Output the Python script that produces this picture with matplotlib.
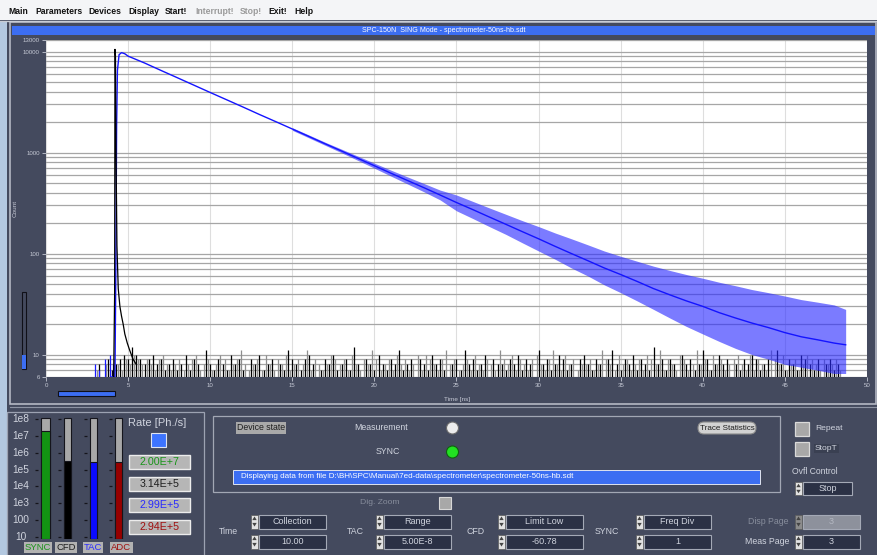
import matplotlib
matplotlib.use("Agg")
import matplotlib.pyplot as plt
from matplotlib.patches import Rectangle, Circle, FancyBboxPatch, Polygon
from matplotlib.ticker import LogLocator, NullFormatter

plt.rcParams['font.family'] = ['Liberation Sans', 'DejaVu Sans']

# ---------------- data ----------------
menu_items = ['Main', 'Parameters', 'Devices', 'Display', 'Start!', 'Interrupt!', 'Stop!', 'Exit!', 'Help']
menu_enabled = [True, True, True, True, True, False, False, True, True]

# decay curve (blue), time in ns, counts
decay_t = [4.0, 4.2, 4.25, 4.3, 4.35, 4.45, 4.6, 4.8, 5, 6, 7, 8, 9, 10, 11, 12, 13, 14, 15, 16, 17,
           18, 19, 20, 21, 22, 23, 24, 25, 26, 27, 28, 29, 30, 31, 32, 33, 34, 35, 36, 37, 38, 39,
           40, 41, 42, 43, 44, 45, 46, 47, 48, 48.7]
decay_counts = [6, 6, 60, 1800, 6500, 9300, 9750, 9500, 9000, 7700, 6500, 5500, 4650, 3930, 3330,
                2820, 2380, 2020, 1710, 1445, 1220, 1035, 875, 740, 625, 530, 450, 380, 320, 272,
                230, 195, 165, 140, 118, 100, 85, 72, 62, 53, 45, 39, 34, 30, 26, 23, 20.5, 18.5,
                16.5, 15, 14, 13, 12.5]

# noise spread of the decay curve
band_t = [15, 16, 17, 18, 19, 20, 21, 22, 23, 24, 25, 26, 27, 28, 29, 30, 31, 32, 33, 34, 35,
          36, 37, 38, 39, 40, 41, 42, 43, 44, 45, 46, 47, 48, 48.7]
band_low = [1660, 1400, 1180, 995, 835, 700, 585, 490, 410, 340, 265, 222, 185, 155, 128, 106,
            88, 72, 60, 49, 41, 34, 28, 23, 19, 16, 13.5, 11.5, 10, 9, 8, 7.5, 7, 6.5, 6.5]
band_high = [1760, 1495, 1265, 1080, 920, 785, 670, 575, 495, 425, 380, 328, 283, 245, 212, 185,
             160, 140, 122, 106, 94, 84, 75, 68, 62, 57, 52, 48, 44, 41, 38, 35, 33, 31, 28]

# instrument response (black)
irf_t = [4.12, 4.18, 4.2, 4.23, 4.27, 4.32, 4.4, 4.5, 4.6, 4.7, 4.8, 4.95, 5.1, 5.3, 5.5]
irf_counts = [6, 40, 10500, 9000, 800, 120, 45, 30, 24, 20, 16, 13, 11, 9, 8]

# background counts, one value per 0.25 ns channel group starting at 2.75 ns
bg_black = [6, 6, 8, 6, 9, 7, 8, 9, 10, 9, 12, 10, 9, 8, 9, 10, 8, 9, 7, 8,
            9, 7, 8, 10, 7, 9, 8, 6, 11, 8, 7, 9, 8, 7, 10, 8, 9, 7, 6, 9,
            8, 10, 7, 8, 9, 6, 8, 7, 11, 9, 8, 7, 9, 10, 8, 6, 7, 9, 8, 10,
            7, 8, 9, 7, 12, 8, 6, 9, 8, 7, 10, 8, 7, 9, 8, 11, 7, 8, 9, 6,
            9, 8, 7, 10, 8, 9, 7, 6, 8, 9, 7, 11, 8, 9, 7, 8, 10, 6, 9, 8,
            8, 7, 9, 8, 10, 7, 9, 8, 6, 11, 8, 9, 7, 8, 10, 9, 7, 8, 6, 9,
            10, 8, 7, 9, 8, 6, 9, 11, 8, 7, 9, 8, 10, 7, 9, 8, 7, 12, 8, 9,
            7, 9, 8, 6, 10, 8, 9, 7, 8, 11, 9, 7, 8, 10, 8, 9, 6, 8, 7, 9,
            8, 10, 9, 7, 8, 9, 6, 11, 8, 7, 9, 8, 7, 10, 9, 8, 7, 9, 6, 8,
            9, 7, 8, 6]
bg_gray = [6, 7, 6, 8, 7, 9, 8, 7, 9, 8, 10, 9, 8, 9, 8, 7, 9, 10, 8, 7,
           8, 9, 7, 8, 9, 10, 7, 8, 9, 7, 8, 10, 9, 7, 8, 9, 11, 8, 7, 8,
           9, 7, 10, 8, 7, 9, 8, 10, 7, 8, 9, 8, 11, 7, 9, 8, 7, 8, 10, 9,
           8, 9, 7, 10, 8, 7, 9, 8, 11, 9, 7, 8, 9, 7, 10, 8, 9, 7, 8, 10,
           7, 10, 9, 8, 7, 9, 11, 8, 9, 7, 8, 9, 7, 10, 8, 7, 9, 8, 7, 11,
           9, 8, 10, 7, 9, 8, 7, 9, 10, 8, 7, 9, 11, 8, 7, 10, 8, 9, 7, 8,
           8, 9, 7, 8, 11, 9, 8, 7, 10, 8, 9, 7, 8, 9, 7, 10, 9, 8, 11, 7,
           9, 8, 7, 10, 9, 7, 8, 11, 8, 9, 7, 10, 8, 9, 7, 8, 9, 10, 8, 7,
           10, 7, 9, 8, 7, 11, 9, 8, 10, 7, 8, 9, 7, 8, 10, 9, 8, 7, 9, 8,
           8, 9, 7, 6]
pre_blue_t = [3.0, 3.2, 3.6, 3.9, 4.05]
pre_blue_counts = [8, 7, 9, 10, 8]

x_ticks = [0, 5, 10, 15, 20, 25, 30, 35, 40, 45, 50]
y_ticks = [6, 10, 100, 1000, 10000, 13000]
y_tick_labels = ['6', '10', '100', '1000', '10000', '13000']

# rate meters
rate_names = ['SYNC', 'CFD', 'TAC', 'ADC']
rates = [2.00e7, 3.14e5, 2.99e5, 2.94e5]
rate_bar_colors = ['#139313', '#000000', '#0b0bff', '#960000']
rate_text_colors = ['#1a941a', '#1e1e1e', '#2a2aff', '#a01010']
rate_scale = [1e8, 1e7, 1e6, 1e5, 1e4, 1e3, 100, 10]
rate_scale_labels = ['1e8', '1e7', '1e6', '1e5', '1e4', '1e3', '100', '10']

spinner_groups = [('Time', 'Collection', '10.00'), ('TAC', 'Range', '5.00E-8'),
                  ('CFD', 'Limit Low', '-60.78'), ('SYNC', 'Freq Div', '1')]

# ---------------- figure ----------------
BG = '#444a5e'
LIGHT = '#d0d4de'
BLUE_BAR = '#3c6ef2'
W, H = 878, 555

fig = plt.figure(figsize=(W / 100, H / 100), dpi=100)
fig.patch.set_facecolor(BG)


def fig_rect(x0, y0, x1, y1):
    return [x0 / W, 1 - y1 / H, (x1 - x0) / W, (y1 - y0) / H]


ui = fig.add_axes([0, 0, 1, 1])
ui.set_xlim(0, W)
ui.set_ylim(H, 0)
ui.axis('off')

# menu bar and window edge
ui.add_patch(Rectangle((0, 0), W, 20, fc='#f4f5f7', ec='none'))
ui.plot([0, W], [20.5, 20.5], color='#c8ccd4', lw=1)
ui.add_patch(Rectangle((0, 21), 7, H - 21, fc='#b3c8e0', ec='none'))
menu_x = [8, 35, 88, 128, 165, 195, 240, 268, 294]
for name, ok, x in zip(menu_items, menu_enabled, menu_x):
    ui.text(x, 11, name, fontsize=6.2, fontweight='bold', va='center', ha='left',
            color='#111111' if ok else '#9a9a9a')

# graph panel frame and title bar
ui.add_patch(Rectangle((10, 22), 866, 382, fc='none', ec='#b4b8c4', lw=1.2))
ui.plot([10, 876], [406.5, 406.5], color='#8e94a4', lw=0.8)
ui.add_patch(Rectangle((12, 25.5), 863, 9.5, fc=BLUE_BAR, ec='none'))
ui.text(444, 30.3, 'SPC-150N  SING Mode - spectrometer-50ns-hb.sdt', fontsize=5.1,
        color='white', ha='center', va='center')

# scroll bars of the graph
ui.add_patch(Rectangle((58, 391), 57, 4.5, fc=BLUE_BAR, ec='#101018', lw=0.8))
ui.add_patch(Rectangle((22, 292), 4, 77, fc=BG, ec='#101018', lw=0.8))
ui.add_patch(Rectangle((22, 355), 4, 14, fc=BLUE_BAR, ec='none'))

# ---------------- decay plot ----------------
ax = fig.add_axes(fig_rect(46, 40, 867, 377))
ax.set_facecolor('white')
ax.set_xlim(0, 50)
ax.set_yscale('log')
ax.set_ylim(6, 13000)
ax.yaxis.set_minor_locator(LogLocator(base=10, subs=[2, 3, 4, 5, 6, 7, 8, 9], numticks=20))
ax.yaxis.set_minor_formatter(NullFormatter())
ax.set_yticks(y_ticks)
ax.set_yticklabels(y_tick_labels)
ax.set_xticks(x_ticks)
ax.grid(True, which='both', axis='y', color='#a6a6a6', lw=0.9)
ax.grid(True, which='major', axis='x', color='#dedede', lw=0.8)
ax.set_axisbelow(True)
for s in ax.spines.values():
    s.set_visible(False)
ax.tick_params(which='major', colors='#c4c8d4', labelsize=4.4, length=3, width=0.6, pad=1.5)
ax.tick_params(which='minor', length=0)
ax.set_xlabel('Time [ns]', fontsize=4.6, color='#c4c8d4')
ax.xaxis.set_label_coords((457 - 46) / 821, (377 - 397) / 337)
ax.set_ylabel('Count', fontsize=4.6, color='#c4c8d4')
ax.yaxis.set_label_coords((18 - 46) / 821, 0.5)

bb_t = [2.75 + 0.25 * i for i in range(len(bg_black))]
bg_t = [2.875 + 0.25 * i for i in range(len(bg_gray))]
ax.vlines(bg_t, 6, bg_gray, color='#8e8e8e', lw=0.9, zorder=2)
ax.vlines(bb_t, 6, bg_black, color='#000000', lw=0.9, zorder=2)
ax.vlines(pre_blue_t, 6, pre_blue_counts, color='#1a1aff', lw=0.9, zorder=2)

ax.fill_between(band_t, band_low, band_high, color='#2a2aff', alpha=0.62, lw=0, zorder=3)
ax.plot(decay_t, decay_counts, color='#1414ff', lw=1.0, zorder=4)
ax.plot(irf_t, irf_counts, color='#000000', lw=0.9, zorder=5)

# ---------------- rate meters ----------------
ui.add_patch(Rectangle((7.5, 411.5), 197, 150, fc='none', ec='#9ca2b2', lw=0.9))
gax = fig.add_axes(fig_rect(0, 417, 140, 539))
gax.set_xlim(0, 140)
gax.set_yscale('log')
g_bottom, g_top = 7.61, 1.314e8
gax.set_ylim(g_bottom, g_top)
gax.axis('off')
bar_x = [45.5, 67.5, 93.5, 118.5]
bar_w = [9, 7.5, 7.5, 7.5]
for cx, w, r, c in zip(bar_x, bar_w, rates, rate_bar_colors):
    gax.bar(cx, 1.12e8 - g_bottom, bottom=g_bottom, width=w, color='#a8a8a8',
            edgecolor='#15151c', lw=0.8)
    gax.bar(cx, r - g_bottom, bottom=g_bottom, width=w, color=c, edgecolor='#15151c', lw=0.8)
    gax.hlines(rate_scale, cx - w / 2 - 6, cx - w / 2 - 3, color='#15151c', lw=0.9)
for v, lab in zip(rate_scale, rate_scale_labels):
    gax.text(21, v, lab, fontsize=7.3, color=LIGHT, ha='center', va='center')

name_x = [38, 66, 93, 121.5]
for x, name, c in zip(name_x, rate_names, rate_text_colors):
    ui.text(x, 547.5, name, fontsize=6.8, color=c, ha='center', va='center',
            bbox=dict(boxstyle='square,pad=0.12', fc='#b2b2b2', ec='none'))

ui.text(157, 423, 'Rate [Ph./s]', fontsize=8, color=LIGHT, ha='center', va='center')
ui.add_patch(Rectangle((151.5, 432.5), 14.5, 14.5, fc='#3d74ff', ec='#dfe4f0', lw=0.8))
for i, (r, c) in enumerate(zip(rates, rate_text_colors)):
    y0 = 455 + 21.6 * i
    ui.add_patch(Rectangle((129, y0), 61, 14, fc='#b6b6b6', ec='#ececec', lw=1))
    exp = len(str(int(r))) - 1
    txt = f'{r / 10 ** exp:.2f}E+{exp}'
    ui.text(159.5, y0 + 7.3, txt, fontsize=7.7, color=c, ha='center', va='center')

# ---------------- device state panel ----------------
ui.add_patch(Rectangle((213, 416), 567, 76, fc='none', ec='#a2a7b4', lw=0.9))
ui.text(237, 428, 'Device state', fontsize=6.3, color='#1e1e1e', ha='left', va='center',
        bbox=dict(boxstyle='square,pad=0.12', fc='#a9a9a9', ec='none'))
ui.text(381, 427.5, 'Measurement', fontsize=6.3, color=LIGHT, ha='center', va='center')
ui.text(388, 451, 'SYNC', fontsize=6.3, color=LIGHT, ha='center', va='center')
ui.add_patch(Circle((452.5, 428), 6, fc='#ececec', ec='#6c6c6c', lw=0.8))
ui.add_patch(Circle((452.5, 452), 6, fc='#22e022', ec='#106010', lw=0.8))
ui.add_patch(Rectangle((233, 469.5), 527, 14.5, fc=BLUE_BAR, ec='#e0e4f0', lw=0.7))
ui.text(241, 477, 'Displaying data from file D:\\BH\\SPC\\Manual\\7ed-data\\spectrometer\\'
        'spectrometer-50ns-hb.sdt', fontsize=5.8, color='white', ha='left', va='center')
ui.add_patch(FancyBboxPatch((698, 422), 58, 12, boxstyle='round,pad=0,rounding_size=6',
                            fc='#d2d2d2', ec='#8a8a8a', lw=0.8))
ui.text(727, 428, 'Trace Statistics', fontsize=5.8, color='#1e1e1e', ha='center', va='center')

# right controls
ui.add_patch(Rectangle((795, 421.5), 14, 14, fc='#a8a8a8', ec='#dadada', lw=0.9))
ui.text(815, 428.5, 'Repeat', fontsize=6.1, color=LIGHT, ha='left', va='center')
ui.add_patch(Rectangle((795, 441.5), 14, 14, fc='#a8a8a8', ec='#dadada', lw=0.9))
ui.text(815, 448.5, 'StopT', fontsize=6.1, color=LIGHT, ha='left', va='center',
        bbox=dict(boxstyle='square,pad=0.1', fc='#3a4052', ec='none'))
ui.text(792, 471, 'Ovfl Control', fontsize=6.2, color=LIGHT, ha='left', va='center')


def spinner(x0, y0, x1, y1, text, disabled=False):
    aw = 7
    h = y1 - y0
    ui.add_patch(Rectangle((x0, y0), aw, h, fc='#8c8c8c' if disabled else '#e2e2e2',
                           ec='#5c5c5c', lw=0.5))
    cx = x0 + aw / 2
    up = [(cx - 2.2, y0 + h * 0.4), (cx + 2.2, y0 + h * 0.4), (cx, y0 + h * 0.14)]
    dn = [(cx - 2.2, y0 + h * 0.6), (cx + 2.2, y0 + h * 0.6), (cx, y0 + h * 0.86)]
    for tri in (up, dn):
        ui.add_patch(Polygon(tri, closed=True, fc='#444444', ec='none'))
    ui.add_patch(Rectangle((x0 + aw + 1, y0), x1 - x0 - aw - 1, h,
                           fc='#8d919c' if disabled else '#2b3145', ec='#a4a9b6', lw=0.8))
    ui.text((x0 + aw + 1 + x1) / 2, y0 + h / 2 + 0.3, text, fontsize=6.5,
            color='#b4b8c2' if disabled else LIGHT, ha='center', va='center')


spinner(795, 482, 852, 495, 'Stop')

# ---------------- bottom parameter row ----------------
ui.text(380, 503, 'Dig. Zoom', fontsize=6.1, color='#878d9c', ha='center', va='center')
ui.add_patch(Rectangle((439, 496.5), 12, 12, fc='#a8a8a8', ec='#d8d8d8', lw=0.8))

label_x = [228, 355, 476, 607]
spin_x = [(251, 326), (376, 451), (498, 583), (636, 711)]
for (lab, top, bottom), lx, (sx0, sx1) in zip(spinner_groups, label_x, spin_x):
    ui.text(lx, 531.5, lab, fontsize=6.3, color=LIGHT, ha='center', va='center')
    spinner(sx0, 514.5, sx1, 528.5, top)
    spinner(sx0, 534.5, sx1, 548.5, bottom)

ui.text(789, 521.5, 'Disp Page', fontsize=6.3, color='#878d9c', ha='right', va='center')
spinner(795, 514.5, 860, 528.5, '3', disabled=True)
ui.text(789, 541.5, 'Meas Page', fontsize=6.3, color=LIGHT, ha='right', va='center')
spinner(795, 534.5, 860, 548.5, '3')

fig.savefig('out.png', dpi=100, facecolor=fig.get_facecolor())
